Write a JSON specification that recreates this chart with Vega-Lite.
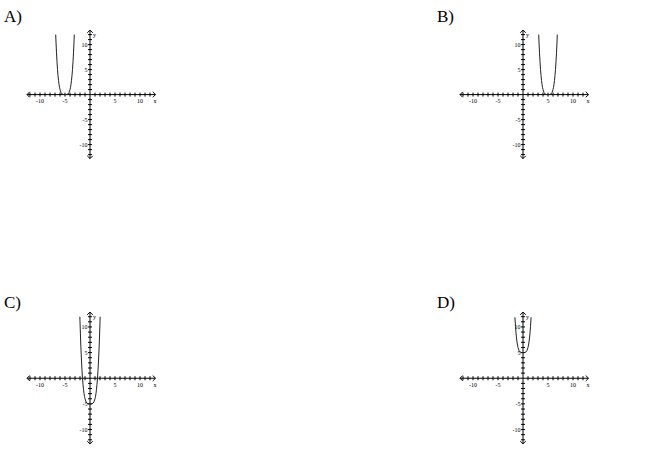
{
  "$schema": "https://vega.github.io/schema/vega-lite/v6.json",
  "description": "Four answer choices, each a parabola-like curve on a -10..10 grid.",
  "padding": {"left": 4, "top": 8, "right": 0, "bottom": 0},
  "background": "white",
  "config": {
    "view": {"stroke": null},
    "axis": {"disable": true},
    "title": {"font": "Liberation Serif", "fontSize": 17, "fontWeight": "normal", "anchor": "start", "baseline": "top", "offset": -2, "color": "black"},
    "rule": {"color": "black", "strokeWidth": 1},
    "text": {"font": "Liberation Serif", "fontSize": 6, "color": "black"}
  },
  "datasets": {
    "ticks": [
      {"v": -12}, {"v": -11}, {"v": -10}, {"v": -9}, {"v": -8}, {"v": -7}, {"v": -6}, {"v": -5}, {"v": -4}, {"v": -3}, {"v": -2}, {"v": -1},
      {"v": 1}, {"v": 2}, {"v": 3}, {"v": 4}, {"v": 5}, {"v": 6}, {"v": 7}, {"v": 8}, {"v": 9}, {"v": 10}, {"v": 11}, {"v": 12}
    ],
    "labels": [{"v": -10}, {"v": -5}, {"v": 5}, {"v": 10}],
    "curveA": [
      {"x": -6.86, "y": 12.0}, {"x": -6.8, "y": 10.5}, {"x": -6.7, "y": 8.35}, {"x": -6.6, "y": 6.55}, {"x": -6.5, "y": 5.06},
      {"x": -6.4, "y": 3.84}, {"x": -6.3, "y": 2.86}, {"x": -6.2, "y": 2.07}, {"x": -6.1, "y": 1.46}, {"x": -6.0, "y": 1.0},
      {"x": -5.8, "y": 0.41}, {"x": -5.6, "y": 0.13}, {"x": -5.4, "y": 0.03}, {"x": -5.2, "y": 0.0}, {"x": -5.0, "y": 0.0},
      {"x": -4.8, "y": 0.0}, {"x": -4.6, "y": 0.03}, {"x": -4.4, "y": 0.13}, {"x": -4.2, "y": 0.41}, {"x": -4.0, "y": 1.0},
      {"x": -3.9, "y": 1.46}, {"x": -3.8, "y": 2.07}, {"x": -3.7, "y": 2.86}, {"x": -3.6, "y": 3.84}, {"x": -3.5, "y": 5.06},
      {"x": -3.4, "y": 6.55}, {"x": -3.3, "y": 8.35}, {"x": -3.2, "y": 10.5}, {"x": -3.14, "y": 12.0}
    ],
    "curveB": [
      {"x": 3.14, "y": 12.0}, {"x": 3.2, "y": 10.5}, {"x": 3.3, "y": 8.35}, {"x": 3.4, "y": 6.55}, {"x": 3.5, "y": 5.06},
      {"x": 3.6, "y": 3.84}, {"x": 3.7, "y": 2.86}, {"x": 3.8, "y": 2.07}, {"x": 3.9, "y": 1.46}, {"x": 4.0, "y": 1.0},
      {"x": 4.2, "y": 0.41}, {"x": 4.4, "y": 0.13}, {"x": 4.6, "y": 0.03}, {"x": 4.8, "y": 0.0}, {"x": 5.0, "y": 0.0},
      {"x": 5.2, "y": 0.0}, {"x": 5.4, "y": 0.03}, {"x": 5.6, "y": 0.13}, {"x": 5.8, "y": 0.41}, {"x": 6.0, "y": 1.0},
      {"x": 6.1, "y": 1.46}, {"x": 6.2, "y": 2.07}, {"x": 6.3, "y": 2.86}, {"x": 6.4, "y": 3.84}, {"x": 6.5, "y": 5.06},
      {"x": 6.6, "y": 6.55}, {"x": 6.7, "y": 8.35}, {"x": 6.8, "y": 10.5}, {"x": 6.86, "y": 12.0}
    ],
    "curveC": [
      {"x": -2.03, "y": 12.0}, {"x": -2.0, "y": 11.0}, {"x": -1.9, "y": 8.03}, {"x": -1.8, "y": 5.5}, {"x": -1.7, "y": 3.35},
      {"x": -1.6, "y": 1.55}, {"x": -1.5, "y": 0.06}, {"x": -1.4, "y": -1.16}, {"x": -1.3, "y": -2.14}, {"x": -1.2, "y": -2.93},
      {"x": -1.1, "y": -3.54}, {"x": -1.0, "y": -4.0}, {"x": -0.8, "y": -4.59}, {"x": -0.6, "y": -4.87}, {"x": -0.4, "y": -4.97},
      {"x": -0.2, "y": -5.0}, {"x": 0.0, "y": -5.0}, {"x": 0.2, "y": -5.0}, {"x": 0.4, "y": -4.97}, {"x": 0.6, "y": -4.87},
      {"x": 0.8, "y": -4.59}, {"x": 1.0, "y": -4.0}, {"x": 1.1, "y": -3.54}, {"x": 1.2, "y": -2.93}, {"x": 1.3, "y": -2.14},
      {"x": 1.4, "y": -1.16}, {"x": 1.5, "y": 0.06}, {"x": 1.6, "y": 1.55}, {"x": 1.7, "y": 3.35}, {"x": 1.8, "y": 5.5},
      {"x": 1.9, "y": 8.03}, {"x": 2.0, "y": 11.0}, {"x": 2.03, "y": 12.0}
    ],
    "curveD": [
      {"x": -1.62, "y": 11.89}, {"x": -1.5, "y": 10.06}, {"x": -1.4, "y": 8.84}, {"x": -1.3, "y": 7.86}, {"x": -1.2, "y": 7.07},
      {"x": -1.1, "y": 6.46}, {"x": -1.0, "y": 6.0}, {"x": -0.8, "y": 5.41}, {"x": -0.6, "y": 5.13}, {"x": -0.4, "y": 5.03},
      {"x": -0.2, "y": 5.0}, {"x": 0.0, "y": 5.0}, {"x": 0.2, "y": 5.0}, {"x": 0.4, "y": 5.03}, {"x": 0.6, "y": 5.13},
      {"x": 0.8, "y": 5.41}, {"x": 1.0, "y": 6.0}, {"x": 1.1, "y": 6.46}, {"x": 1.2, "y": 7.07}, {"x": 1.3, "y": 7.86},
      {"x": 1.4, "y": 8.84}, {"x": 1.5, "y": 10.06}, {"x": 1.62, "y": 11.89}
    ]
  },
  "vconcat": [
    {
      "hconcat": [
        {
          "title": "A)",
          "width": 170, "height": 136,
          "layer": [
            {"data": {"name": "ticks"}, "mark": "rule",
             "encoding": {"x": {"field": "v", "type": "quantitative", "scale": {"domain": [-17.2, 16.8], "nice": false, "zero": false}, "axis": null},
                          "y": {"datum": -0.4, "scale": {"domain": [-13.08, 14.12], "nice": false, "zero": false}, "axis": null}, "y2": {"datum": 0.4}}},
            {"data": {"name": "ticks"}, "mark": "rule",
             "encoding": {"y": {"field": "v", "type": "quantitative"}, "x": {"datum": -0.4}, "x2": {"datum": 0.4}}},
            {"data": {"values": [{}]}, "mark": "rule", "encoding": {"x": {"datum": -12.6}, "x2": {"datum": 13.1}, "y": {"datum": 0}}},
            {"data": {"values": [{}]}, "mark": "rule", "encoding": {"y": {"datum": -12.8}, "y2": {"datum": 12.9}, "x": {"datum": 0}}},
            {"data": {"values": [{}]}, "mark": {"type": "point", "shape": "M-1,-1L0,0L-1,1", "size": 30, "filled": false, "color": "black", "strokeWidth": 1, "opacity": 1}, "encoding": {"x": {"datum": 13.1}, "y": {"datum": 0}}},
            {"data": {"values": [{}]}, "mark": {"type": "point", "shape": "M1,-1L0,0L1,1", "size": 30, "filled": false, "color": "black", "strokeWidth": 1, "opacity": 1}, "encoding": {"x": {"datum": -12.6}, "y": {"datum": 0}}},
            {"data": {"values": [{}]}, "mark": {"type": "point", "shape": "M-1,1L0,0L1,1", "size": 30, "filled": false, "color": "black", "strokeWidth": 1, "opacity": 1}, "encoding": {"x": {"datum": 0}, "y": {"datum": 12.9}}},
            {"data": {"values": [{}]}, "mark": {"type": "point", "shape": "M-1,-1L0,0L1,-1", "size": 30, "filled": false, "color": "black", "strokeWidth": 1, "opacity": 1}, "encoding": {"x": {"datum": 0}, "y": {"datum": -12.8}}},
            {"data": {"name": "labels"}, "mark": {"type": "text", "baseline": "top", "dy": 3.5},
             "encoding": {"x": {"field": "v", "type": "quantitative"}, "y": {"datum": 0}, "text": {"field": "v", "type": "nominal"}}},
            {"data": {"name": "labels"}, "mark": {"type": "text", "align": "right", "baseline": "middle", "dx": -2.5},
             "encoding": {"y": {"field": "v", "type": "quantitative"}, "x": {"datum": 0}, "text": {"field": "v", "type": "nominal"}}},
            {"data": {"values": [{}]}, "mark": {"type": "text", "baseline": "top", "dy": 3.5}, "encoding": {"x": {"datum": 13.0}, "y": {"datum": 0}, "text": {"value": "x"}}},
            {"data": {"values": [{}]}, "mark": {"type": "text", "align": "left", "baseline": "middle", "dx": 3}, "encoding": {"x": {"datum": 0}, "y": {"datum": 12.0}, "text": {"value": "y"}}},
            {"data": {"name": "curveA"}, "mark": {"type": "line", "color": "#222222", "strokeWidth": 1},
             "encoding": {"x": {"field": "x", "type": "quantitative"}, "y": {"field": "y", "type": "quantitative"}}}
          ]
        },
        {
          "title": "B)",
          "width": 170, "height": 136,
          "layer": [
            {"data": {"name": "ticks"}, "mark": "rule",
             "encoding": {"x": {"field": "v", "type": "quantitative", "scale": {"domain": [-17.2, 16.8], "nice": false, "zero": false}, "axis": null},
                          "y": {"datum": -0.4, "scale": {"domain": [-13.08, 14.12], "nice": false, "zero": false}, "axis": null}, "y2": {"datum": 0.4}}},
            {"data": {"name": "ticks"}, "mark": "rule",
             "encoding": {"y": {"field": "v", "type": "quantitative"}, "x": {"datum": -0.4}, "x2": {"datum": 0.4}}},
            {"data": {"values": [{}]}, "mark": "rule", "encoding": {"x": {"datum": -12.6}, "x2": {"datum": 13.1}, "y": {"datum": 0}}},
            {"data": {"values": [{}]}, "mark": "rule", "encoding": {"y": {"datum": -12.8}, "y2": {"datum": 12.9}, "x": {"datum": 0}}},
            {"data": {"values": [{}]}, "mark": {"type": "point", "shape": "M-1,-1L0,0L-1,1", "size": 30, "filled": false, "color": "black", "strokeWidth": 1, "opacity": 1}, "encoding": {"x": {"datum": 13.1}, "y": {"datum": 0}}},
            {"data": {"values": [{}]}, "mark": {"type": "point", "shape": "M1,-1L0,0L1,1", "size": 30, "filled": false, "color": "black", "strokeWidth": 1, "opacity": 1}, "encoding": {"x": {"datum": -12.6}, "y": {"datum": 0}}},
            {"data": {"values": [{}]}, "mark": {"type": "point", "shape": "M-1,1L0,0L1,1", "size": 30, "filled": false, "color": "black", "strokeWidth": 1, "opacity": 1}, "encoding": {"x": {"datum": 0}, "y": {"datum": 12.9}}},
            {"data": {"values": [{}]}, "mark": {"type": "point", "shape": "M-1,-1L0,0L1,-1", "size": 30, "filled": false, "color": "black", "strokeWidth": 1, "opacity": 1}, "encoding": {"x": {"datum": 0}, "y": {"datum": -12.8}}},
            {"data": {"name": "labels"}, "mark": {"type": "text", "baseline": "top", "dy": 3.5},
             "encoding": {"x": {"field": "v", "type": "quantitative"}, "y": {"datum": 0}, "text": {"field": "v", "type": "nominal"}}},
            {"data": {"name": "labels"}, "mark": {"type": "text", "align": "right", "baseline": "middle", "dx": -2.5},
             "encoding": {"y": {"field": "v", "type": "quantitative"}, "x": {"datum": 0}, "text": {"field": "v", "type": "nominal"}}},
            {"data": {"values": [{}]}, "mark": {"type": "text", "baseline": "top", "dy": 3.5}, "encoding": {"x": {"datum": 13.0}, "y": {"datum": 0}, "text": {"value": "x"}}},
            {"data": {"values": [{}]}, "mark": {"type": "text", "align": "left", "baseline": "middle", "dx": 3}, "encoding": {"x": {"datum": 0}, "y": {"datum": 12.0}, "text": {"value": "y"}}},
            {"data": {"name": "curveB"}, "mark": {"type": "line", "color": "#222222", "strokeWidth": 1},
             "encoding": {"x": {"field": "x", "type": "quantitative"}, "y": {"field": "y", "type": "quantitative"}}}
          ]
        }
      ],
      "spacing": 263
    },
    {
      "hconcat": [
        {
          "title": "C)",
          "width": 170, "height": 135,
          "layer": [
            {"data": {"name": "ticks"}, "mark": "rule",
             "encoding": {"x": {"field": "v", "type": "quantitative", "scale": {"domain": [-17.2, 16.8], "nice": false, "zero": false}, "axis": null},
                          "y": {"datum": -0.4, "scale": {"domain": [-13.6, 12.72], "nice": false, "zero": false}, "axis": null}, "y2": {"datum": 0.4}}},
            {"data": {"name": "ticks"}, "mark": "rule",
             "encoding": {"y": {"field": "v", "type": "quantitative"}, "x": {"datum": -0.4}, "x2": {"datum": 0.4}}},
            {"data": {"values": [{}]}, "mark": "rule", "encoding": {"x": {"datum": -12.6}, "x2": {"datum": 13.1}, "y": {"datum": 0}}},
            {"data": {"values": [{}]}, "mark": "rule", "encoding": {"y": {"datum": -12.8}, "y2": {"datum": 12.9}, "x": {"datum": 0}}},
            {"data": {"values": [{}]}, "mark": {"type": "point", "shape": "M-1,-1L0,0L-1,1", "size": 30, "filled": false, "color": "black", "strokeWidth": 1, "opacity": 1}, "encoding": {"x": {"datum": 13.1}, "y": {"datum": 0}}},
            {"data": {"values": [{}]}, "mark": {"type": "point", "shape": "M1,-1L0,0L1,1", "size": 30, "filled": false, "color": "black", "strokeWidth": 1, "opacity": 1}, "encoding": {"x": {"datum": -12.6}, "y": {"datum": 0}}},
            {"data": {"values": [{}]}, "mark": {"type": "point", "shape": "M-1,1L0,0L1,1", "size": 30, "filled": false, "color": "black", "strokeWidth": 1, "opacity": 1}, "encoding": {"x": {"datum": 0}, "y": {"datum": 12.9}}},
            {"data": {"values": [{}]}, "mark": {"type": "point", "shape": "M-1,-1L0,0L1,-1", "size": 30, "filled": false, "color": "black", "strokeWidth": 1, "opacity": 1}, "encoding": {"x": {"datum": 0}, "y": {"datum": -12.8}}},
            {"data": {"name": "labels"}, "mark": {"type": "text", "baseline": "top", "dy": 3.5},
             "encoding": {"x": {"field": "v", "type": "quantitative"}, "y": {"datum": 0}, "text": {"field": "v", "type": "nominal"}}},
            {"data": {"name": "labels"}, "mark": {"type": "text", "align": "right", "baseline": "middle", "dx": -2.5},
             "encoding": {"y": {"field": "v", "type": "quantitative"}, "x": {"datum": 0}, "text": {"field": "v", "type": "nominal"}}},
            {"data": {"values": [{}]}, "mark": {"type": "text", "baseline": "top", "dy": 3.5}, "encoding": {"x": {"datum": 13.0}, "y": {"datum": 0}, "text": {"value": "x"}}},
            {"data": {"values": [{}]}, "mark": {"type": "text", "align": "left", "baseline": "middle", "dx": 3}, "encoding": {"x": {"datum": 0}, "y": {"datum": 12.0}, "text": {"value": "y"}}},
            {"data": {"name": "curveC"}, "mark": {"type": "line", "color": "#222222", "strokeWidth": 1},
             "encoding": {"x": {"field": "x", "type": "quantitative"}, "y": {"field": "y", "type": "quantitative"}}}
          ]
        },
        {
          "title": "D)",
          "width": 170, "height": 135,
          "layer": [
            {"data": {"name": "ticks"}, "mark": "rule",
             "encoding": {"x": {"field": "v", "type": "quantitative", "scale": {"domain": [-17.2, 16.8], "nice": false, "zero": false}, "axis": null},
                          "y": {"datum": -0.4, "scale": {"domain": [-13.6, 12.72], "nice": false, "zero": false}, "axis": null}, "y2": {"datum": 0.4}}},
            {"data": {"name": "ticks"}, "mark": "rule",
             "encoding": {"y": {"field": "v", "type": "quantitative"}, "x": {"datum": -0.4}, "x2": {"datum": 0.4}}},
            {"data": {"values": [{}]}, "mark": "rule", "encoding": {"x": {"datum": -12.6}, "x2": {"datum": 13.1}, "y": {"datum": 0}}},
            {"data": {"values": [{}]}, "mark": "rule", "encoding": {"y": {"datum": -12.8}, "y2": {"datum": 12.9}, "x": {"datum": 0}}},
            {"data": {"values": [{}]}, "mark": {"type": "point", "shape": "M-1,-1L0,0L-1,1", "size": 30, "filled": false, "color": "black", "strokeWidth": 1, "opacity": 1}, "encoding": {"x": {"datum": 13.1}, "y": {"datum": 0}}},
            {"data": {"values": [{}]}, "mark": {"type": "point", "shape": "M1,-1L0,0L1,1", "size": 30, "filled": false, "color": "black", "strokeWidth": 1, "opacity": 1}, "encoding": {"x": {"datum": -12.6}, "y": {"datum": 0}}},
            {"data": {"values": [{}]}, "mark": {"type": "point", "shape": "M-1,1L0,0L1,1", "size": 30, "filled": false, "color": "black", "strokeWidth": 1, "opacity": 1}, "encoding": {"x": {"datum": 0}, "y": {"datum": 12.9}}},
            {"data": {"values": [{}]}, "mark": {"type": "point", "shape": "M-1,-1L0,0L1,-1", "size": 30, "filled": false, "color": "black", "strokeWidth": 1, "opacity": 1}, "encoding": {"x": {"datum": 0}, "y": {"datum": -12.8}}},
            {"data": {"name": "labels"}, "mark": {"type": "text", "baseline": "top", "dy": 3.5},
             "encoding": {"x": {"field": "v", "type": "quantitative"}, "y": {"datum": 0}, "text": {"field": "v", "type": "nominal"}}},
            {"data": {"name": "labels"}, "mark": {"type": "text", "align": "right", "baseline": "middle", "dx": -2.5},
             "encoding": {"y": {"field": "v", "type": "quantitative"}, "x": {"datum": 0}, "text": {"field": "v", "type": "nominal"}}},
            {"data": {"values": [{}]}, "mark": {"type": "text", "baseline": "top", "dy": 3.5}, "encoding": {"x": {"datum": 13.0}, "y": {"datum": 0}, "text": {"value": "x"}}},
            {"data": {"values": [{}]}, "mark": {"type": "text", "align": "left", "baseline": "middle", "dx": 3}, "encoding": {"x": {"datum": 0}, "y": {"datum": 12.0}, "text": {"value": "y"}}},
            {"data": {"name": "curveD"}, "mark": {"type": "line", "color": "#222222", "strokeWidth": 1},
             "encoding": {"x": {"field": "x", "type": "quantitative"}, "y": {"field": "y", "type": "quantitative"}}}
          ]
        }
      ],
      "spacing": 263
    }
  ],
  "spacing": 133
}
